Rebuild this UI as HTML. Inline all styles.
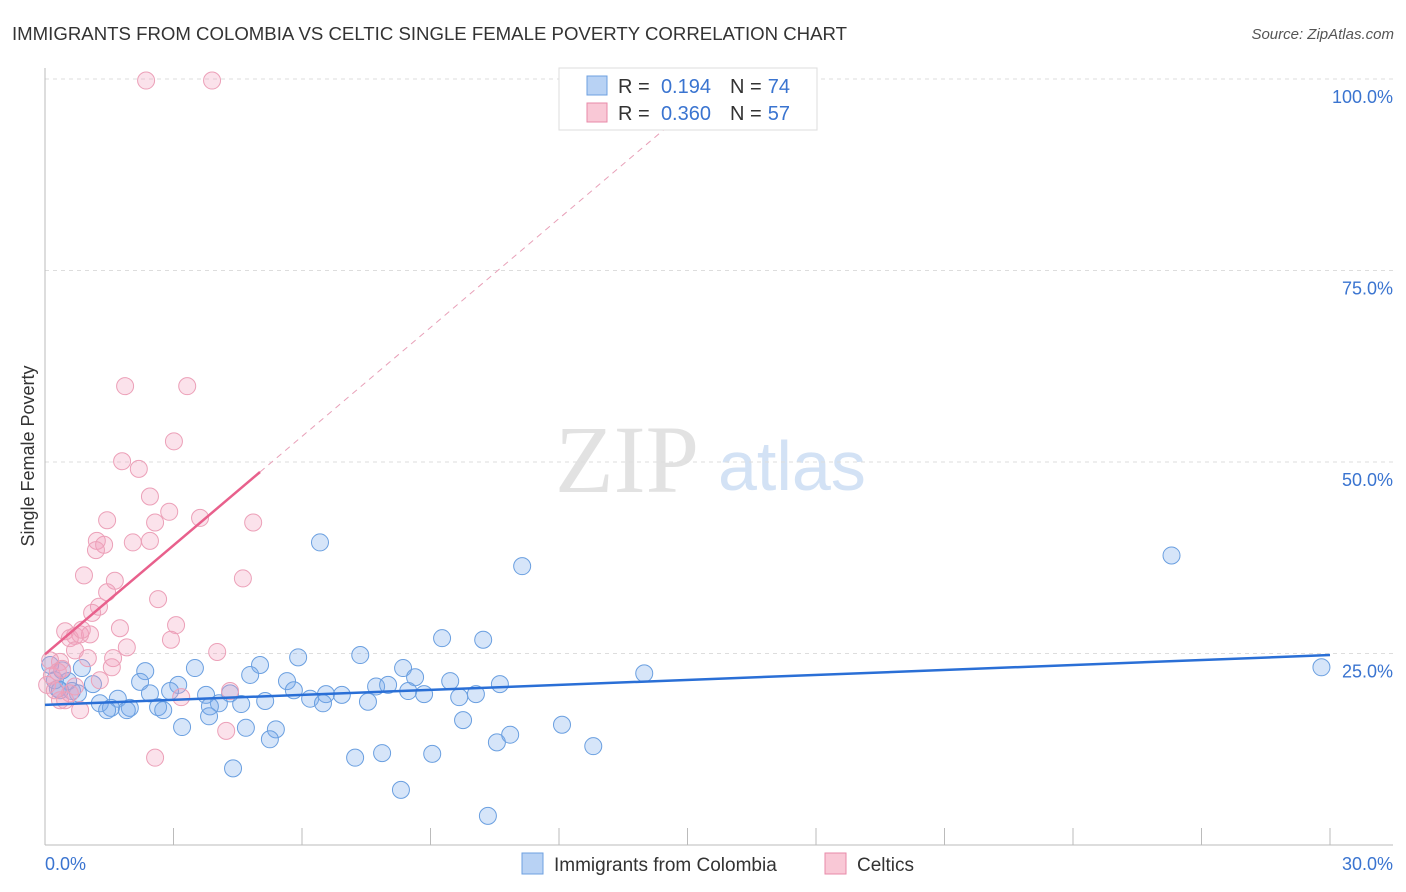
<!DOCTYPE html>
<html><head><meta charset="utf-8"><style>
body{margin:0;background:#fff;font-family:"Liberation Sans",sans-serif;}
svg{display:block}
</style></head><body>
<svg id="chart" width="1406" height="892">
<text x="12" y="40" font-size="18" fill="#333" textLength="835" lengthAdjust="spacingAndGlyphs">IMMIGRANTS FROM COLOMBIA VS CELTIC SINGLE FEMALE POVERTY CORRELATION CHART</text>
<text x="1394" y="39" font-size="15" fill="#555" font-style="italic" text-anchor="end">Source: ZipAtlas.com</text>
<text x="555" y="492" font-size="96" font-family="Liberation Serif,serif" fill="#e2e2e2">ZIP</text>
<text x="718" y="490" font-size="70" fill="#d3e2f5">atlas</text>
<g id="grid"></g><g id="axes"></g><g id="pts"></g><g id="lines"></g>
<text transform="translate(34,456) rotate(-90)" font-size="18" fill="#333" text-anchor="middle">Single Female Poverty</text>
<text x="45" y="870" font-size="18" fill="#3a74d0">0.0%</text>
<text x="1393" y="870" font-size="18" fill="#3a74d0" text-anchor="end">30.0%</text>
<g>
<rect x="559" y="68" width="258" height="62" fill="#fff" stroke="#ddd"/>
<rect x="587" y="76" width="20" height="19" fill="#b8d2f4" stroke="#6ea0e0"/>
<rect x="587" y="103" width="20" height="19" fill="#f9c8d6" stroke="#e88aa8"/>
<text x="618" y="93" font-size="20" fill="#333">R =</text>
<text x="711" y="93" font-size="20" fill="#3a74d0" text-anchor="end">0.194</text>
<text x="730" y="93" font-size="20" fill="#333">N =</text>
<text x="790" y="93" font-size="20" fill="#3a74d0" text-anchor="end">74</text>
<text x="618" y="120" font-size="20" fill="#333">R =</text>
<text x="711" y="120" font-size="20" fill="#3a74d0" text-anchor="end">0.360</text>
<text x="730" y="120" font-size="20" fill="#333">N =</text>
<text x="790" y="120" font-size="20" fill="#3a74d0" text-anchor="end">57</text>
</g>
<g>
<rect x="522" y="853" width="21" height="21" fill="#b8d2f4" stroke="#6ea0e0"/>
<text x="554" y="871" font-size="19" fill="#333">Immigrants from Colombia</text>
<rect x="825" y="853" width="21" height="21" fill="#f9c8d6" stroke="#e88aa8"/>
<text x="857" y="871" font-size="19" fill="#333">Celtics</text>
</g>
</svg>
<script>
const yTicks=[25,50,75,100];
const yTickLabels=["25.0%","50.0%","75.0%","100.0%"];
const blueX=[6.42,11.14,26.3,29.8,13.99,9.27,10.23,5.91,7.36,5.02,3.50,2.34,0.86,4.79,5.65,8.36,8.64,9.46,7.73,8.01,10.62,3.11,2.22,0.54,1.12,5.81,6.56,6.93,8.48,9.67,10.06,8.85,2.92,2.45,3.76,4.32,1.70,0.63,0.30,6.19,7.54,5.14,6.49,4.06,4.58,1.28,1.54,1.98,2.64,2.76,3.85,3.83,1.91,1.45,9.76,12.07,3.20,5.39,4.69,5.25,10.55,10.86,12.80,7.87,9.04,7.24,4.39,8.31,10.34,0.12,0.23,0.35,0.40,0.77];
const blueY=[39.5,36.4,37.8,23.2,22.4,27.0,26.8,24.5,24.8,23.5,23.1,22.7,23.1,22.2,21.4,23.1,21.9,21.4,20.7,20.9,21.0,20.9,21.3,21.4,21.0,20.2,19.7,19.6,20.1,19.3,19.7,19.7,20.1,19.8,19.6,19.8,19.1,20.1,20.4,19.1,18.7,18.8,18.5,18.5,18.4,18.5,17.9,17.9,18.0,17.6,18.1,16.8,17.6,17.6,16.3,15.7,15.4,15.1,15.3,13.8,13.4,14.4,12.9,12.0,11.9,11.4,10.0,7.2,3.8,23.5,21.5,20.2,22.8,19.8];
const pinkX=[2.36,3.90,1.87,3.32,3.01,1.80,2.19,2.45,1.45,2.90,3.62,4.86,2.57,1.21,2.05,2.45,1.38,1.19,0.91,1.63,4.62,1.45,2.64,1.26,1.10,1.75,3.06,0.47,0.70,0.82,0.58,1.05,0.86,2.94,1.91,4.02,1.59,1.00,0.35,0.70,0.12,1.56,1.28,0.40,4.32,3.18,0.70,4.23,2.57,0.82,0.35,0.05,0.16,0.58,0.47,0.23,0.30];
const pinkY=[99.8,99.8,59.9,59.9,52.7,50.1,49.1,45.5,42.4,43.5,42.7,42.1,42.1,39.7,39.5,39.7,39.2,38.5,35.2,34.5,34.8,33.0,32.1,31.1,30.3,28.3,28.7,27.9,27.3,27.5,27.0,27.5,28.1,26.8,25.8,25.2,24.4,24.4,23.9,25.4,24.1,23.2,21.5,23.0,20.1,19.3,20.7,14.9,11.4,17.6,18.9,20.9,22.1,19.8,18.9,20.2,22.6];
const blueTrend=[18.3,24.8];
const pinkTrend=[24.9,4.74];
const NS="http://www.w3.org/2000/svg";
const X=v=>45+v/30*1285, Y=v=>845-v/100*766;
function mk(p,t,a){const e=document.createElementNS(NS,t);for(const k in a)e.setAttribute(k,a[k]);document.getElementById(p).appendChild(e);return e;}
yTicks.forEach((t,i)=>{
 const l=mk('grid','line',{x1:45,x2:1393,y1:Y(t),y2:Y(t),stroke:'#ddd','stroke-dasharray':'4,4'});
 
 
 const tx=mk('grid','text',{x:1393,y:Y(t)+24,'font-size':18,fill:'#3a74d0','text-anchor':'end'});
 tx.textContent=yTickLabels[i];
 
 
});
let a=mk('axes','line',{x1:45,x2:45,y1:68,y2:845,stroke:'#bbb'});


a=mk('axes','line',{x1:45,x2:1393,y1:845,y2:845,stroke:'#bbb'});


for(let i=0;i<=10;i++){const t=mk('axes','line',{x1:X(i*3),x2:X(i*3),y1:828,y2:845,stroke:'#bbb'});
 
 }
blueX.forEach((x,i)=>{const c=mk('pts','circle',{cx:X(x),cy:Y(blueY[i]),r:8.5,fill:'rgba(120,170,235,0.3)',stroke:'#6a9fe0','stroke-width':1});
 
 });
pinkX.forEach((x,i)=>{const c=mk('pts','circle',{cx:X(x),cy:Y(pinkY[i]),r:8.5,fill:'rgba(242,160,188,0.3)',stroke:'#eca0b8','stroke-width':1});
 
 });
let ln=mk('lines','line',{x1:X(0),y1:Y(blueTrend[0]),x2:X(30),y2:Y(blueTrend[1]),stroke:'#2a6fd6','stroke-width':2.5});


const pxEnd=(100-pinkTrend[0])/pinkTrend[1];
ln=mk('lines','line',{x1:X(5.02),y1:Y(pinkTrend[0]+pinkTrend[1]*5.02),x2:X(pxEnd),y2:Y(100),stroke:'#e8a0b8','stroke-width':1,'stroke-dasharray':'6,5'});


ln=mk('lines','line',{x1:X(0),y1:Y(pinkTrend[0]),x2:X(5.02),y2:Y(pinkTrend[0]+pinkTrend[1]*5.02),stroke:'#e8608c','stroke-width':2.5});


</script>
</body></html>
